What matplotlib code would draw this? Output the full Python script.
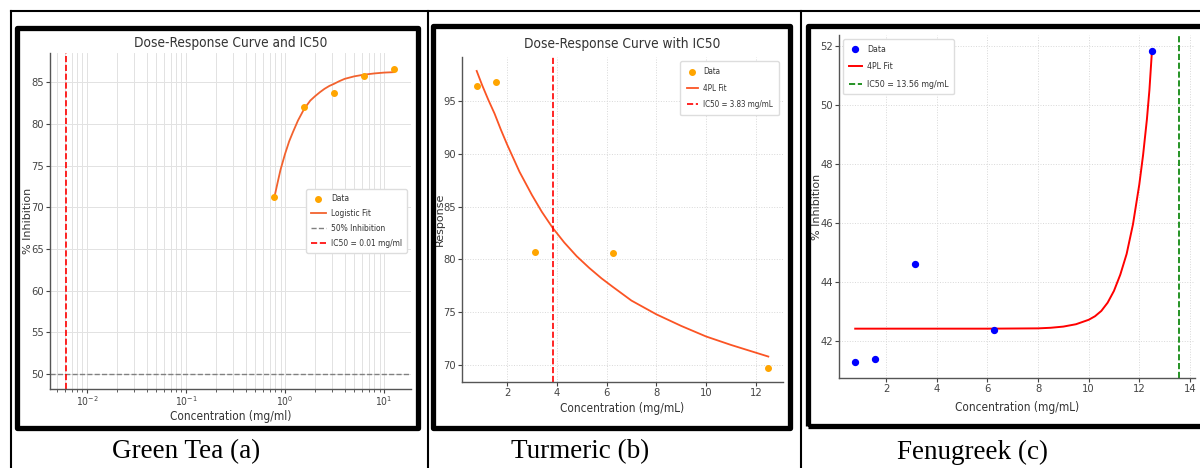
import matplotlib
matplotlib.use("Agg")
import matplotlib.pyplot as plt
from matplotlib.patches import Rectangle
from matplotlib.lines import Line2D

# data
conc = [0.78125, 1.5625, 3.125, 6.25, 12.5]

tea_inhib = [71.2, 82.0, 83.7, 85.8, 86.6]
tea_fit_x = [0.78, 0.85, 0.9, 1.0, 1.1, 1.2, 1.35, 1.56, 1.8, 2.0, 2.25, 2.5, 2.8, 3.12, 3.5, 4.0, 5.0, 6.25, 8.0, 10.0, 12.5]
tea_fit_y = [71.2, 73.2, 74.5, 76.4, 77.9, 79.0, 80.4, 81.8, 82.8, 83.3, 83.8, 84.2, 84.55, 84.8, 85.1, 85.4, 85.7, 85.9, 86.05, 86.15, 86.2]
tea_ic50 = 0.0061

tur_resp = [96.4, 96.8, 80.7, 80.6, 69.7]
tur_fit_x = [0.78, 1.0, 1.25, 1.5, 1.75, 2.0, 2.5, 3.0, 3.4, 3.83, 4.3, 4.8, 5.3, 5.8, 6.25, 7.0, 8.0, 9.0, 10.0, 11.0, 12.5]
tur_fit_y = [97.85, 96.5, 95.1, 93.8, 92.3, 90.9, 88.3, 86.1, 84.5, 83.0, 81.6, 80.3, 79.2, 78.2, 77.4, 76.1, 74.8, 73.7, 72.7, 71.9, 70.8]
tur_ic50 = 3.83

fen_inhib = [41.28, 41.4, 44.6, 42.37, 51.82]
fen_fit_x = [0.78, 2.0, 4.0, 6.0, 8.0, 8.5, 9.0, 9.5, 10.0, 10.25, 10.5, 10.75, 11.0, 11.25, 11.5, 11.75, 12.0, 12.15, 12.3, 12.4, 12.5]
fen_fit_y = [42.42, 42.42, 42.42, 42.42, 42.43, 42.45, 42.49, 42.57, 42.72, 42.84, 43.02, 43.3, 43.7, 44.25, 44.95, 45.95, 47.3, 48.3, 49.5, 50.5, 51.82]
fen_ic50 = 13.56

captions = ["Green Tea (a)", "Turmeric (b)", "Fenugreek (c)"]

plt.rcParams["font.family"] = ["DejaVu Sans"]
plt.rcParams["font.stretch"] = "condensed"
plt.rcParams["text.color"] = "#333333"
plt.rcParams["axes.labelcolor"] = "#333333"
plt.rcParams["xtick.color"] = "#444444"
plt.rcParams["ytick.color"] = "#444444"

W, H = 1200, 468
fig = plt.figure(figsize=(W / 100, H / 100), dpi=100)


def axes_px(left, top, right, bottom):
    return fig.add_axes([left / W, 1 - bottom / H, (right - left) / W, (bottom - top) / H])


def style(ax, ttl, ttl_gap, xlab, xlab_gap, ylab, ylab_x):
    for s in ["top", "right"]:
        ax.spines[s].set_visible(False)
    for s in ["left", "bottom"]:
        ax.spines[s].set_color("#555555")
        ax.spines[s].set_linewidth(1.0)
    ax.tick_params(labelsize=8, length=3, pad=1.2)
    if ttl:
        ax.text(0.5, 1 + ttl_gap, ttl, transform=ax.transAxes, ha="center", va="center", fontsize=9.8)
    ax.set_xlabel(xlab, fontsize=8.5)
    ax.xaxis.set_label_coords(0.5, -xlab_gap)
    ax.xaxis.label.set_va("center")
    ax.set_ylabel(ylab, fontsize=8, stretch="normal")
    ax.yaxis.set_label_coords(ylab_x, 0.5)
    ax.yaxis.label.set_va("center")


leg_kw = dict(framealpha=1, edgecolor="#dddddd", handletextpad=0.6)

# panel a - green tea
ax1 = axes_px(50, 53, 411, 389)
ax1.set_xscale("log")
ax1.grid(True, which="both", axis="x", color="#e2e2e2", lw=0.7)
ax1.grid(True, which="major", axis="y", color="#e2e2e2", lw=0.7)
ax1.set_axisbelow(True)
ax1.scatter(conc, tea_inhib, color="orange", s=16, zorder=3, label="Data")
ax1.plot(tea_fit_x, tea_fit_y, color="#f2622e", lw=1.3, label="Logistic Fit")
ax1.axhline(50, color="gray", ls="--", lw=1.0, label="50% Inhibition")
ax1.axvline(tea_ic50, color="red", ls="--", lw=1.2, label="IC50 = 0.01 mg/ml")
ax1.set_xlim(0.00423, 18.7)
ax1.set_ylim(48.2, 88.5)
ax1.set_yticks([50, 55, 60, 65, 70, 75, 80, 85])
style(ax1, "Dose-Response Curve and IC50", 0.03, "Concentration (mg/ml)", 0.083, "% Inhibition", -0.06)
ax1.tick_params(axis="x", which="major", labelsize=7.5, pad=0.8)
ax1.legend(loc="center right", fontsize=6, borderpad=0.6, labelspacing=0.7, handlelength=1.8, **leg_kw)

# panel b - turmeric
ax2 = axes_px(462, 57, 783, 382)
ax2.grid(True, color="#d8d8d8", lw=0.7, ls=":")
ax2.set_axisbelow(True)
ax2.scatter(conc, tur_resp, color="orange", s=16, zorder=3, label="Data")
ax2.plot(tur_fit_x, tur_fit_y, color="#fb5424", lw=1.3, label="4PL Fit")
ax2.axvline(tur_ic50, color="red", ls="--", lw=1.2, label="IC50 = 3.83 mg/mL")
ax2.set_xlim(0.19, 13.09)
ax2.set_ylim(68.39, 99.17)
ax2.set_xticks([2, 4, 6, 8, 10, 12])
ax2.set_yticks([70, 75, 80, 85, 90, 95])
style(ax2, "Dose-Response Curve with IC50", 0.04, "Concentration (mg/mL)", 0.083, "Response", -0.069)
ax2.legend(loc="upper right", fontsize=5.8, borderpad=0.8, labelspacing=0.9, handlelength=1.4, **leg_kw)

# panel c - fenugreek (title cut off in the source image)
ax3 = axes_px(839, 35, 1195, 378)
ax3.grid(True, color="#d8d8d8", lw=0.7, ls=":")
ax3.set_axisbelow(True)
ax3.scatter(conc, fen_inhib, color="blue", s=18, zorder=3, label="Data")
ax3.plot(fen_fit_x, fen_fit_y, color="red", lw=1.4, label="4PL Fit")
ax3.axvline(fen_ic50, color="green", ls="--", lw=1.2, label="IC50 = 13.56 mg/mL")
ax3.set_xlim(0.14, 14.2)
ax3.set_ylim(40.75, 52.36)
ax3.set_xticks([2, 4, 6, 8, 10, 12, 14])
ax3.set_yticks([42, 44, 46, 48, 50, 52])
style(ax3, None, 0, "Concentration (mg/mL)", 0.085, "% Inhibition", -0.061)
ax3.legend(loc="upper left", fontsize=6.3, borderpad=0.6, labelspacing=1.0, handlelength=1.5, **leg_kw)

# thick black frames round each plot image
for x0, y0, x1, y1 in [(16.5, 27.5, 417.5, 427.5), (433, 25.5, 789.5, 427.5), (807.5, 25.5, 1215, 425.5)]:
    fig.add_artist(Rectangle((x0 / W, 1 - y1 / H), (x1 - x0) / W, (y1 - y0) / H,
                             transform=fig.transFigure, fill=False, ec="black",
                             lw=3.8, joinstyle="round", zorder=10))

# table rules
for xs, ys in [([11, W], [11, 11]), ([11, 11], [11, H]), ([428.5, 428.5], [11, H]), ([801, 801], [11, H])]:
    fig.add_artist(Line2D([x / W for x in xs], [1 - y / H for y in ys], transform=fig.transFigure,
                          color="black", lw=1.5, zorder=10))

for cx, txt in zip([186, 580, 972], captions):
    fig.text(cx / W, 1 - 452 / H, txt, ha="center", va="center", fontsize=19.5,
             family="Liberation Serif", stretch="normal", color="black")

fig.savefig("out.png", dpi=100)
